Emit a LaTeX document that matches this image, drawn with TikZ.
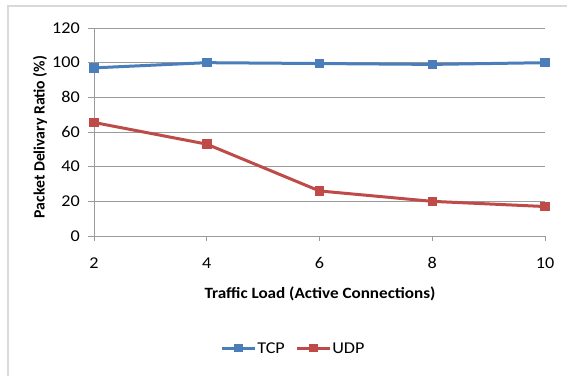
\documentclass[tikz,border=0pt]{standalone}
\usepackage{fontspec}
\setmainfont{Carlito}
\usepackage{tikz}
\usetikzlibrary{positioning}
\definecolor{tcpblue}{HTML}{4A7EBB}
\definecolor{udpred}{HTML}{BE4B48}
\definecolor{gridgray}{HTML}{9A9A9A}
\definecolor{framegray}{HTML}{D9D9D9}
\tikzset{mk/.style={rectangle,minimum size=9.5pt,inner sep=0pt},
  tcpmk/.style={mk,fill=tcpblue},
  udpmk/.style={mk,fill=udpred},
  tcpline/.style={tcpblue,line width=3pt},
  udpline/.style={udpred,line width=3pt},
  grid line/.style={gridgray,line width=1pt},
  ticklab/.style={font=\fontsize{16.5}{19}\selectfont,inner sep=1pt,xscale=1.1},
  axlab/.style={font=\fontsize{15.7}{18}\selectfont\bfseries}}

\begin{document}
\begin{tikzpicture}[x=1pt,y=-1pt]
    \useasboundingbox (0,0) rectangle (567,376);
    % outer frame
    \draw[framegray,line width=1.5pt] (8,376) -- (8,6) -- (567,6);

    \begin{scope}[shift={(-18.75pt,-236pt)},x=56.375pt,y=1.7333pt]
    % grid and axes
    \draw[grid line] (2,20) -- (10,20);
    \draw[grid line] (2,40) -- (10,40);
    \draw[grid line] (2,60) -- (10,60);
    \draw[grid line] (2,80) -- (10,80);
    \draw[grid line] (2,100) -- (10,100);
    \draw[grid line] (2,120) -- (10,120);
    \draw[grid line] (1.9,0) -- (10,0);
    \draw[grid line] (2,0) -- (2,120);
    \foreach \yv in {20,40,...,120} \draw[grid line] (1.9,\yv) -- (2,\yv);
    \foreach \xv in {2,4,...,10} \draw[grid line] (\xv,0) -- (\xv,-3);

    % tick labels
    \foreach \yv in {0,20,...,120} \node[ticklab,anchor=east] (y\yv) at (1.77,\yv) {\yv};
    \foreach \xv in {2,4,...,10} \node[ticklab] (x\xv) at (\xv,-15.5) {\xv};

    % data points
    \node[tcpmk] (t2) at (2,97) {};
    \node[tcpmk] (t4) at (4,100) {};
    \node[tcpmk] (t6) at (6,99.5) {};
    \node[tcpmk] (t8) at (8,99) {};
    \node[tcpmk] (t10) at (10,100) {};
    \node[udpmk] (u2) at (2,65.5) {};
    \node[udpmk] (u4) at (4,53) {};
    \node[udpmk] (u6) at (6,26) {};
    \node[udpmk] (u8) at (8,20) {};
    \node[udpmk] (u10) at (10,17) {};
    \end{scope}

    \draw[tcpline] (t2.center) -- (t4.center) -- (t6.center) -- (t8.center) -- (t10.center);
    \draw[udpline] (u2.center) -- (u4.center) -- (u6.center) -- (u8.center) -- (u10.center);
    \node[tcpmk] at (t2) {};
    \node[tcpmk] at (t4) {};
    \node[tcpmk] at (t6) {};
    \node[tcpmk] at (t8) {};
    \node[tcpmk] at (t10) {};
    \node[udpmk] at (u2) {};
    \node[udpmk] at (u4) {};
    \node[udpmk] at (u6) {};
    \node[udpmk] at (u8) {};
    \node[udpmk] at (u10) {};

    % axis titles
    \node[axlab,xscale=1.09] (xtitle) at (320,294) {Traffic Load (Active Connections)};
    \node[axlab,rotate=90] (ytitle) at (40,137) {Packet Delivary Ratio (\%)};

    % legend
    \coordinate (ta) at (222,348);
    \coordinate (tb) at (255,348);
    \draw[tcpline] (ta) -- (tb);
    \node[tcpmk,minimum size=8.5pt] (tk) at (238.5,348) {};
    \node[ticklab,anchor=west] (tlab) at (256,348) {TCP};
    \coordinate (ua) at (297,348);
    \coordinate (ub) at (330,348);
    \draw[udpline] (ua) -- (ub);
    \node[udpmk,minimum size=8.5pt] (uk) at (313.5,348) {};
    \node[ticklab,anchor=west] (ulab) at (331,348) {UDP};
\end{tikzpicture}
\end{document}
